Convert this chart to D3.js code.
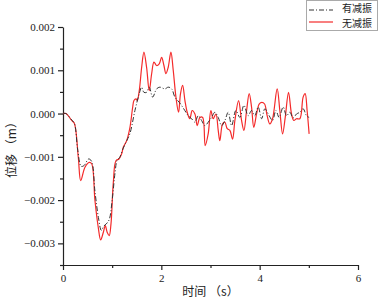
<!DOCTYPE html>
<html>
<head>
<meta charset="utf-8">
<script src="https://cdn.jsdelivr.net/npm/d3@7"></script>
<style>
  body { margin: 0; background: #fff; }
  svg { display: block; }
</style>
</head>
<body>
<div id="container"></div>
<script>
const WIDTH = 379;
const HEIGHT = 300;

// plot area in pixels
const LEFT = 63, RIGHT = 358, TOP = 27, BOTTOM = 265;

const seriesNames = ["有减振", "无减振"];
const xTicks = [0, 2, 4, 6];
const yTicks = [-0.003, -0.002, -0.001, 0.000, 0.001, 0.002];

// 有减振 (damped) - time (s), displacement (m)
const dampedT = [0, 0.06, 0.177, 0.23, 0.3, 0.37, 0.43, 0.52, 0.58, 0.65, 0.72, 0.78, 0.83, 0.88, 0.94,
  1.0, 1.06, 1.1, 1.15, 1.226, 1.3, 1.362, 1.463, 1.551, 1.6, 1.646, 1.7, 1.754, 1.823, 1.904, 1.97,
  2.073, 2.14, 2.21, 2.276, 2.364, 2.433, 2.5, 2.547, 2.616, 2.683, 2.75, 2.819, 2.886, 2.953,
  3.022, 3.089, 3.157, 3.226, 3.293, 3.36, 3.43, 3.516, 3.598, 3.68, 3.766, 3.835, 3.9, 3.97,
  4.04, 4.106, 4.193, 4.262, 4.33, 4.396, 4.478, 4.547, 4.614, 4.68, 4.75, 4.817, 4.884, 4.953, 5.006];
const dampedY = [0, 0, -0.00015, -0.00022, -0.00085, -0.00122, -0.0012, -0.00105, -0.0011, -0.0018, -0.0024, -0.0027, -0.0026, -0.00255, -0.00245,
  -0.002, -0.00135, -0.00108, -0.00102, -0.0008, -0.00062, -0.00046, 0.00007, 0.00046, 0.00061, 0.00049, 0.00049, 0.00061, 0.00038, 0.00057, 0.00061,
  0.00057, 0.00061, 0.00057, 0.00038, 0.00026, 0.00015, 0.00003, -0.00005, -0.00012, -0.0002, -0.00005, -0.00016, -0.00028, -0.0002,
  -0.00009, 0.00003, -0.00009, -0.00028, -0.00016, 0.00003, -0.00028, 0.00007, -0.00009, 0.00019, -0.00005, 0.00007, -0.00005, 0.00015,
  -0.00012, 0.00011, -0.00005, -0.00016, 0.00007, -0.00009, 0.00015, -0.00005, 0.00003, -0.0001, -0.00001, 0.00003, 0.00011, -0.00005, -0.00009];

// 无减振 (undamped)
const undampedT = [0, 0.06, 0.177, 0.23, 0.311, 0.36, 0.447, 0.535, 0.583, 0.65, 0.717, 0.766, 0.819, 0.86, 0.9, 0.94,
  0.976, 1.022, 1.077, 1.138, 1.193, 1.226, 1.295, 1.362, 1.417, 1.443, 1.484, 1.51, 1.551, 1.6, 1.646, 1.7, 1.754,
  1.803, 1.85, 1.904, 1.957, 2.006, 2.053, 2.093, 2.14, 2.195, 2.242, 2.297, 2.35, 2.39, 2.433, 2.48, 2.526, 2.58,
  2.628, 2.683, 2.73, 2.785, 2.84, 2.892, 2.953, 3.008, 3.055, 3.11, 3.157, 3.19, 3.246, 3.293, 3.34, 3.394, 3.449,
  3.496, 3.571, 3.632, 3.68, 3.734, 3.787, 3.835, 3.88, 3.937, 3.99, 4.045, 4.1, 4.152, 4.207, 4.262, 4.356, 4.41,
  4.466, 4.52, 4.587, 4.648, 4.695, 4.75, 4.817, 4.884, 4.925, 4.965, 5.006];
const undampedY = [0, 0, -0.00016, -0.000225, -0.00101, -0.00155, -0.00124, -0.00113, -0.00116, -0.00201, -0.00263, -0.00292, -0.00275, -0.00259, -0.00275, -0.00282,
  -0.00255, -0.00162, -0.00109, -0.00105, -0.00093, -0.00078, -0.000625, -0.000317, 0.000146, 0.0003, 0.00034, 0.0003, 0.00053, 0.00107, 0.00142, 0.00107, 0.00053,
  0.00092, 0.00119, 0.00111, 0.00115, 0.0013, 0.00111, 0.00092, 0.00107, 0.00142, 0.001, 0.00038, 0.00003, 0.00046, 0.00065, 0.0003, 0.00003, -0.00012,
  0.00007, -0.00001, -0.00028, -0.00009, -0.00009, -0.00074, -0.00047, 0.00007, -0.00012, -0.00001, -0.00039, -0.000625, -0.00024, -0.0002, -0.00035, -0.00039, -0.00059,
  -0.00016, 0.0003, -0.00016, -0.00039, 0.00007, 0.00046, 0.00015, -0.00032, -0.00001, 0.00022, 0.00026, 0.00022, -0.00005, -0.00024, -0.00012, 0.00057, 0.00007,
  -0.00047, -0.00009, 0.00049, -0.00001, -0.00016, -0.00012, -0.00012, 0.00038, 0.00046, 0.00007, -0.00047];

var translate = function (x, y) {
  return "translate(" + x + "," + y + ")";
};

var createChart = function () {
  var svg = d3.select("#container").append("svg")
    .attr("width", WIDTH)
    .attr("height", HEIGHT);

  var xScale = d3.scaleLinear().domain([0, 6]).range([LEFT, RIGHT]);
  var yScale = d3.scaleLinear().domain([-0.0035, 0.002]).range([BOTTOM, TOP]);

  var serif = "'Liberation Serif', 'DejaVu Serif', serif";
  var cjk = "'Noto Sans CJK SC', sans-serif";

  // minor ticks
  svg.append("g")
    .attr("transform", translate(0, BOTTOM))
    .call(d3.axisBottom(xScale).tickValues([1, 3, 5]).tickSize(3).tickFormat(""))
    .call(function (g) { g.select(".domain").remove(); });
  svg.append("g")
    .attr("transform", translate(LEFT, 0))
    .call(d3.axisLeft(yScale).tickValues([-0.0035, -0.0025, -0.0015, -0.0005, 0.0005, 0.0015]).tickSize(3).tickFormat(""))
    .call(function (g) { g.select(".domain").remove(); });

  svg.append("g")
    .attr("transform", translate(0, BOTTOM))
    .call(d3.axisBottom(xScale).tickValues(xTicks).tickSize(5).tickSizeOuter(0).tickPadding(4).tickFormat(d3.format("d")));
  svg.append("g")
    .attr("transform", translate(LEFT, 0))
    .call(d3.axisLeft(yScale).tickValues(yTicks).tickSize(5).tickSizeOuter(0).tickPadding(3).tickFormat(d3.format(".3f")));

  svg.selectAll(".tick text")
    .attr("font-family", serif)
    .attr("font-size", 11)
    .attr("fill", "#222");
  svg.selectAll(".domain, .tick line")
    .attr("stroke", "#222")
    .attr("stroke-width", 1.2);

  svg.append("text")
    .attr("x", (LEFT + RIGHT) / 2)
    .attr("y", 296)
    .attr("text-anchor", "middle")
    .attr("font-family", cjk)
    .attr("font-size", 12)
    .attr("fill", "#222")
    .text("时间 （s）");

  svg.append("text")
    .attr("transform", translate(16, 147) + " rotate(-90)")
    .attr("text-anchor", "middle")
    .attr("font-family", cjk)
    .attr("font-size", 12)
    .attr("fill", "#222")
    .text("位移 （m）");

  var line = d3.line()
    .x(function (d) { return xScale(d[0]); })
    .y(function (d) { return yScale(d[1]); })
    .curve(d3.curveCatmullRom.alpha(0.5));

  var undamped = d3.zip(undampedT, undampedY);
  var damped = d3.zip(dampedT, dampedY);

  svg.append("path")
    .attr("d", line(undamped))
    .attr("fill", "none")
    .attr("stroke", "#f42a2a")
    .attr("stroke-width", 1.2);

  svg.append("path")
    .attr("d", line(damped))
    .attr("fill", "none")
    .attr("stroke", "#333")
    .attr("stroke-width", 1)
    .attr("stroke-dasharray", "5,2,1,2");

  // legend
  var legend = svg.append("g").attr("transform", translate(306, 0));
  legend.append("rect")
    .attr("x", 0.5).attr("y", 0.5)
    .attr("width", 71).attr("height", 30)
    .attr("fill", "#fff")
    .attr("stroke", "#aaa");
  var styles = [
    { stroke: "#333", dash: "5,2,1,2", width: 1 },
    { stroke: "#f42a2a", dash: null, width: 1.2 }
  ];
  seriesNames.forEach(function (name, i) {
    var ly = 10 + i * 12;
    legend.append("line")
      .attr("x1", 3).attr("x2", 27)
      .attr("y1", ly).attr("y2", ly)
      .attr("stroke", styles[i].stroke)
      .attr("stroke-width", styles[i].width)
      .attr("stroke-dasharray", styles[i].dash);
    legend.append("text")
      .attr("x", 36)
      .attr("y", 12 + i * 15)
      .attr("font-family", cjk)
      .attr("font-size", 10)
      .attr("fill", "#222")
      .text(name);
  });
};

window.onload = createChart;
</script>
</body>
</html>
